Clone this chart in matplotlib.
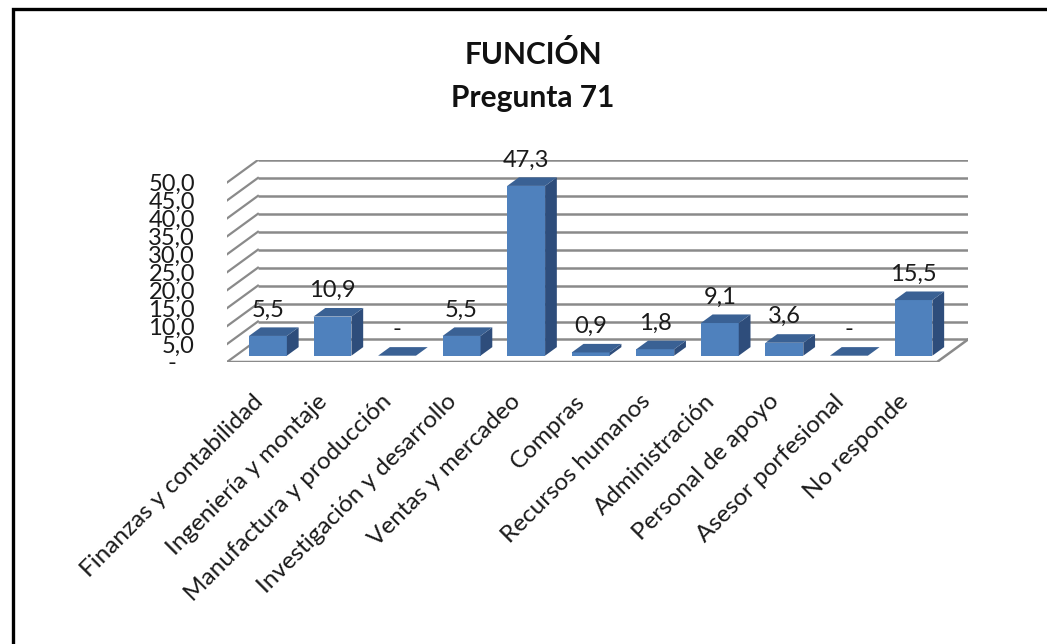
import matplotlib
matplotlib.use("Agg")
import matplotlib.pyplot as plt
from matplotlib.patches import Polygon, Rectangle

plt.rcParams['font.family'] = ['Lato', 'DejaVu Sans']

categories = ["Finanzas y contabilidad", "Ingeniería y montaje", "Manufactura y producción",
              "Investigación y desarrollo", "Ventas y mercadeo", "Compras", "Recursos humanos",
              "Administración", "Personal de apoyo", "Asesor porfesional", "No responde"]
values = [5.5, 10.9, 0.0, 5.5, 47.3, 0.9, 1.8, 9.1, 3.6, 0.0, 15.5]
yticks = [0, 5, 10, 15, 20, 25, 30, 35, 40, 45, 50]
ytick_labels = ["-   ", "5,0", "10,0", "15,0", "20,0", "25,0", "30,0", "35,0", "40,0", "45,0", "50,0"]

def fmt(v):
    return "-" if v == 0 else f"{v:.1f}".replace(".", ",")

W_PX, H_PX = 1047, 644
fig = plt.figure(figsize=(W_PX / 100, H_PX / 100), dpi=100)

# oblique 3D geometry (data units)
N = len(categories)
DX, DY = 0.479, 6.28      # full floor depth
D1, D2 = 0.28, 0.66       # bar front/back depth fraction
BW = 0.587                # bar width
YMAX = 50

ax = fig.add_axes([227 / W_PX, (H_PX - 362) / H_PX, (968 - 227) / W_PX, (362 - 160) / H_PX])
ax.set_xlim(0, N + DX)
ax.set_ylim(0, YMAX + DY)
for s in ax.spines.values():
    s.set_visible(False)

grid_c = '#8a8a8a'
# back wall and left wall gridlines
for v in yticks:
    ax.plot([DX, N + DX], [v + DY, v + DY], color=grid_c, lw=1.8, zorder=1, solid_capstyle='butt')
    ax.plot([0, DX], [v, v + DY], color=grid_c, lw=1.6, zorder=1)
# floor outline
ax.plot([0, N, N + DX], [0, 0, DY], color=grid_c, lw=1.8, zorder=1)

front_c = '#4f81bd'
top_c = '#3a6194'
side_c = '#2e4d7b'
for k, v in enumerate(values):
    x0 = k + 0.5 - BW / 2 + D1 * DX
    y0 = D1 * DY
    ddx = (D2 - D1) * DX
    ddy = (D2 - D1) * DY
    if v > 0:
        ax.bar(x0, v, width=BW, bottom=y0, align='edge', color=front_c, zorder=3, lw=0)
        side = Polygon([(x0 + BW, y0), (x0 + BW + ddx, y0 + ddy),
                        (x0 + BW + ddx, y0 + ddy + v), (x0 + BW, y0 + v)],
                       closed=True, fc=side_c, ec='none', zorder=3)
        ax.add_patch(side)
    top = Polygon([(x0, y0 + v), (x0 + BW, y0 + v), (x0 + BW + ddx, y0 + v + ddy),
                   (x0 + ddx, y0 + v + ddy)], closed=True, fc=top_c, ec='none', zorder=3)
    ax.add_patch(top)
    ax.annotate(fmt(v), (x0 + BW / 2, y0 + v), xytext=(0, 14), textcoords='offset points',
                ha='center', va='baseline', fontsize=17, color='#1a1a1a', zorder=5)

ax.set_yticks(yticks)
ax.set_yticklabels(ytick_labels, fontsize=17, color='#1a1a1a')
ax.set_xticks([k + 0.5 for k in range(N)])
ax.set_xticklabels(categories, rotation=45, ha='right', va='center', rotation_mode='anchor',
                   fontsize=17.5, color='#1a1a1a')
ax.tick_params(axis='y', length=0, pad=23)
ax.tick_params(axis='x', length=0, pad=26)

fig.text(533 / W_PX, 1 - 55 / H_PX, "FUNCIÓN", ha='center', va='center',
         fontsize=21.5, fontweight='bold', color='#111111')
fig.text(533 / W_PX, 1 - 98 / H_PX, "Pregunta 71", ha='center', va='center',
         fontsize=21.5, fontweight='bold', color='#111111')

fig.patches.append(Rectangle((12.5 / W_PX, -0.1), 1.2, 1.1 - 9.5 / H_PX + 0.0,
                             transform=fig.transFigure, fill=False, ec='black', lw=2.4))

fig.savefig("out.png", dpi=100)
